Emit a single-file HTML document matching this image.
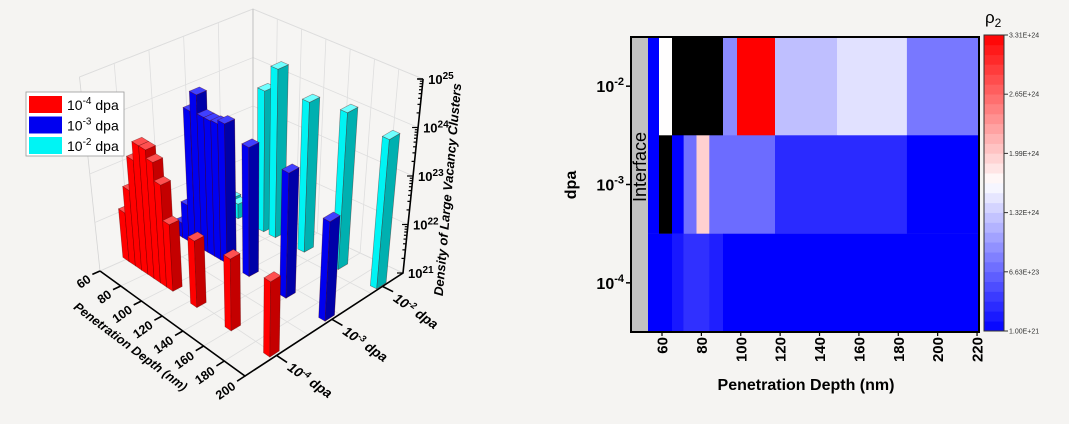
<!DOCTYPE html>
<html><head><meta charset="utf-8">
<style>
body{margin:0;background:#f5f4f2;}
svg{display:block;font-family:"Liberation Sans",sans-serif;}
</style></head>
<body>
<svg id="fig" width="1069" height="424" viewBox="0 0 1069 424">
<rect width="1069" height="424" fill="#f5f4f2"/>
<g id="chart3d"></g>
<g id="heat"></g>
</svg>
<script>
// ---------- 3D bar chart data ----------
const depthTicks = [60,80,100,120,140,160,180,200];
const dpaRows = ["10⁻⁴ dpa","10⁻³ dpa","10⁻² dpa"];
const redDepths = [60,66,72,78,84,90,96,102,125,158,195];
const redLog = [22.0,22.55,23.26,23.65,23.65,23.48,23.1,22.37,22.37,22.48,22.55];
const blueDepths = [60,66,72,78,84,90,96,102,123,158,195];
const blueLog = [21.3,21.74,23.76,24.17,23.78,23.78,23.8,23.88,23.66,23.58,23.05];
const cyanDepths = [60,66,90,101,128,160,196];
const cyanLog = [21.35,21.3,23.9,24.47,24.09,24.23,24.08];
const zTicks = [21,22,23,24,25];

// ---------- heatmap data ----------
const rowLabels = ["-2","-3","-4"];
const xTicks = [60,80,100,120,140,160,180,200,220];
const topEdges = [52.9,58.5,65.1,91,98.1,117.4,148.9,184.4,221];
const topVals = [2e21,1.66e24,5e24,9e23,3.31e24,1.24e24,1.46e24,7.8e23];
const midEdges = [52.9,58.5,65.1,71,77.5,84,117.4,148.9,184.4,221];
const midVals = [1e21,5e24,1e21,7.3e23,1.96e24,7e23,2.75e23,2.75e23,1e21];
const botEdges = [52.9,65.1,71,84,91,221];
const botVals = [1e21,1.56e23,3.1e23,2e23,1e21];
const cbLabels = ["3.31E+24","2.65E+24","1.99E+24","1.32E+24","6.63E+23","1.00E+21"];

const NS="http://www.w3.org/2000/svg";
function mk(tag,attrs,parent,txt){const e=document.createElementNS(NS,tag);for(const k in attrs)e.setAttribute(k,attrs[k]);if(txt!==undefined)e.textContent=txt;parent.appendChild(e);return e;}

// ---------- 3D ----------
const g3=document.getElementById('chart3d');
const A=[100,271],B=[245,376],C=[403,273],D=[253,203];
function proj(d,k,z){
  const s=(d-60)/140;
  const x=A[0]*(1-s)*(1-k)+B[0]*s*(1-k)+C[0]*s*k+D[0]*(1-s)*k;
  const y=A[1]*(1-s)*(1-k)+B[1]*s*(1-k)+C[1]*s*k+D[1]*(1-s)*k;
  return [x+(x-253)*0.0335*z, y-48.5*z];
}
function pts(a){return a.map(p=>p[0].toFixed(1)+','+p[1].toFixed(1)).join(' ');}
const ZT=4.0;
let w=mk('polygon',{points:pts([proj(60,0,0),proj(60,1,0),proj(60,1,ZT),proj(60,0,ZT)]),fill:'#f6f5f3',stroke:'#d4d4d4','stroke-width':0.8},g3);

w=mk('polygon',{points:pts([proj(60,1,0),proj(200,1,0),proj(200,1,ZT),proj(60,1,ZT)]),fill:'#f6f5f3',stroke:'#d4d4d4','stroke-width':0.8},g3);

const grid=mk('g',{stroke:'#dedede','stroke-width':0.8,fill:'none'},g3);

for(let z=0;z<=4;z++){mk('polyline',{points:pts([proj(60,0,z),proj(60,1,z),proj(200,1,z)])},grid);}
for(let k=0.2;k<1;k+=0.2){mk('polyline',{points:pts([proj(200,k,0),proj(60,k,0),proj(60,k,ZT)])},grid);}
for(let d=80;d<=180;d+=20){mk('polyline',{points:pts([proj(d,0,0),proj(d,1,0),proj(d,1,ZT)])},grid);}
mk('line',{x1:proj(60,1,0)[0],y1:proj(60,1,0)[1],x2:proj(60,1,ZT)[0],y2:proj(60,1,ZT)[1],stroke:'#bbb'},grid);
const rowsK=[0.2,0.55,0.87];
const series=[{d:redDepths,v:redLog,k:rowsK[0],c:['#ff0000','#c40000','#ff5050'],n:'red'},
 {d:blueDepths,v:blueLog,k:rowsK[1],c:['#0000f0','#0000a8','#4040ff'],n:'blue'},
 {d:cyanDepths,v:cyanLog,k:rowsK[2],c:['#00f4f4','#00b0b0','#70ffff'],n:'cyan'}];
let bars=[];
series.forEach(s=>{s.d.forEach((d,i)=>bars.push({d:d,z:s.v[i]-21,k:s.k,c:s.c,n:s.n}));});
bars.sort((a,b)=>proj(a.d,a.k,0)[1]-proj(b.d,b.k,0)[1]);
const barG=mk('g',{},g3);
bars.forEach(b=>{
  const d0=b.d-3,d1=b.d+3,k0=b.k-0.03,k1=b.k+0.03,z=b.z;
  const g=mk('g',{stroke:'#500000','stroke-opacity':0.45,'stroke-width':0.6},barG);
  
  
  mk('polygon',{points:pts([proj(d0,k0,0),proj(d1,k0,0),proj(d1,k0,z),proj(d0,k0,z)]),fill:b.c[0]},g);
  mk('polygon',{points:pts([proj(d1,k0,0),proj(d1,k1,0),proj(d1,k1,z),proj(d1,k0,z)]),fill:b.c[1]},g);
  mk('polygon',{points:pts([proj(d0,k0,z),proj(d1,k0,z),proj(d1,k1,z),proj(d0,k1,z)]),fill:b.c[2]},g);
});
const ax=mk('g',{stroke:'#000','stroke-width':1.6,fill:'none'},g3);

mk('polyline',{points:pts([proj(60,0,0),proj(200,0,0),proj(200,1,0),proj(200,1,ZT)])},ax);
depthTicks.forEach(d=>{mk('line',{x1:proj(d,0,0)[0],y1:proj(d,0,0)[1],x2:proj(d,-0.05,0)[0],y2:proj(d,-0.05,0)[1]},ax);});
rowsK.forEach(k=>{mk('line',{x1:proj(200,k,0)[0],y1:proj(200,k,0)[1],x2:proj(210,k,0)[0],y2:proj(210,k,0)[1]},ax);});
for(let z=0;z<4;z++){for(let m=1;m<10;m++){const zz=z+Math.log10(m);const p=proj(200,1,zz);mk('line',{x1:p[0]-(m==1?6:3),y1:p[1],x2:p[0],y2:p[1],'stroke-width':1.2},ax);}}
{const p=proj(200,1,4);mk('line',{x1:p[0]-6,y1:p[1],x2:p[0],y2:p[1]},ax);}
const lab=mk('g',{'font-size':13,fill:'#000'},g3);

depthTicks.forEach(d=>{const p=proj(d,-0.06,0);const t=mk('text',{x:0,y:0,'text-anchor':'end','font-weight':'bold','font-size':12.5,transform:`translate(${p[0]+1},${p[1]+6}) rotate(-35)`},lab,String(d));
 });
let t=mk('text',{x:0,y:0,'text-anchor':'middle','font-style':'italic','font-weight':'bold','font-size':12.5,transform:'translate(128,350) rotate(37)'},lab,'Penetration Depth (nm)');

const dpaSup=["-4","-3","-2"];
rowsK.forEach((k,i)=>{const p=proj(200,k,0);const tx=mk('text',{x:0,y:0,'font-size':13.5,'font-style':'italic','font-weight':'bold',transform:`translate(${p[0]+10},${p[1]+14}) rotate(35)`},lab);
 
 mk('tspan',{},tx,'10');mk('tspan',{dy:-5,'font-size':9},tx,dpaSup[i]);mk('tspan',{dy:5},tx,' dpa');});
zTicks.forEach(z=>{const p=proj(200,1,z-21);const tx=mk('text',{x:p[0]+5,y:p[1]+5,'font-size':13,'font-weight':'bold'},lab);
 
 mk('tspan',{},tx,'10');mk('tspan',{dy:-5,'font-size':10},tx,String(z));});
t=mk('text',{x:0,y:0,'text-anchor':'middle','font-style':'italic','font-weight':'bold','font-size':13,transform:'translate(452,190) rotate(-85)'},lab,'Density of Large Vacancy Clusters');

const lg=mk('g',{},g3);
mk('rect',{x:26,y:92,width:98,height:64,fill:'#fff',stroke:'#999','stroke-width':0.8},lg);
const lcol=['#ff0000','#0000f0','#00f4f4'];
dpaSup.forEach((s,i)=>{const e=mk('g',{},lg);
 mk('rect',{x:29,y:96+i*20.5,width:33,height:17,fill:lcol[i]},e);
 const tx=mk('text',{x:67,y:110+i*20.5,'font-size':14},e);mk('tspan',{},tx,'10');mk('tspan',{dy:-6,'font-size':10},tx,s);mk('tspan',{dy:6},tx,' dpa');});

// ---------- heatmap ----------
const gh=document.getElementById('heat');
const X0=631,X1=979,Y0=37,Y1=332,VMIN=1e21,VMAX=3.31e24;
const xs=d=>662+(d-60)*1.969;
const rowH=(Y1-Y0)/3;
function cmap(v){if(v>VMAX*1.01)return '#000';let t=(v-VMIN)/(VMAX-VMIN);t=Math.max(0,Math.min(1,t));
 if(t<0.5){const f=t*2;const c=Math.round(255*f);return `rgb(${c},${c},255)`;} const f=(t-0.5)*2;const c=Math.round(255*(1-f));return `rgb(255,${c},${c})`;}
mk('rect',{x:X0,y:Y0,width:X1-X0,height:Y1-Y0,fill:'#c0c0c0'},gh);
[[topEdges,topVals],[midEdges,midVals],[botEdges,botVals]].forEach((r,ri)=>{
 r[1].forEach((v,i)=>{const x=xs(r[0][i]),x2=xs(r[0][i+1]);
  const c=mk('rect',{x:x.toFixed(1),y:(Y0+ri*rowH).toFixed(1),width:(x2-x+0.3).toFixed(1),height:(rowH+0.3).toFixed(1),fill:cmap(v)},gh);
  
  });});
let fr=mk('rect',{x:X0,y:Y0,width:X1-X0,height:Y1-Y0,fill:'none',stroke:'#000','stroke-width':2},gh);

t=mk('text',{x:0,y:0,'font-size':18,'text-anchor':'middle',transform:'translate(646,167) rotate(-90)'},gh,'Interface');

rowLabels.forEach((s,i)=>{const y=Y0+rowH*(i+0.5);mk('line',{x1:X0-5,y1:y,x2:X0,y2:y,stroke:'#000','stroke-width':1.5},gh);
 const tx=mk('text',{x:X0-7,y:y+6,'text-anchor':'end','font-weight':'bold','font-size':16},gh);
 
 mk('tspan',{},tx,'10');mk('tspan',{dy:-7,'font-size':11},tx,s);});
xTicks.forEach(d=>{const x=xs(d);mk('line',{x1:x,y1:Y1,x2:x,y2:Y1+4,stroke:'#000','stroke-width':1.2},gh);
 const tx=mk('text',{x:0,y:0,'text-anchor':'end','font-weight':'bold','font-size':15,transform:`translate(${x+5.5},${Y1+5}) rotate(-90)`},gh,String(d));
 });
t=mk('text',{x:806,y:390,'text-anchor':'middle','font-weight':'bold','font-size':16},gh,'Penetration Depth (nm)');

t=mk('text',{x:0,y:0,'text-anchor':'middle','font-weight':'bold','font-size':16,transform:'translate(576,185) rotate(-90)'},gh,'dpa');

const cb=mk('g',{},gh);
const CB0=35,CB1=331,N=30;
for(let i=0;i<N;i++){const v=VMIN+(VMAX-VMIN)*(i+0.5)/N;const y=CB1-(i+1)*(CB1-CB0)/N;
 mk('rect',{x:984,y:y.toFixed(1),width:20,height:((CB1-CB0)/N+0.3).toFixed(1),fill:cmap(v)},cb);}
mk('rect',{x:984,y:CB0,width:20,height:CB1-CB0,fill:'none',stroke:'#333','stroke-width':1},cb);
cbLabels.forEach((s,i)=>{const y=CB0+i*(CB1-CB0)/5;mk('line',{x1:1004,y1:y,x2:1008,y2:y,stroke:'#333'},cb);
 mk('text',{x:1009,y:y+2.5,'font-size':7,fill:'#333'},cb,s);});
t=mk('text',{x:985,y:23,'font-size':17},gh);
mk('tspan',{},t,'ρ');mk('tspan',{dy:4,'font-size':12},t,'2');
</script>
</body></html>
